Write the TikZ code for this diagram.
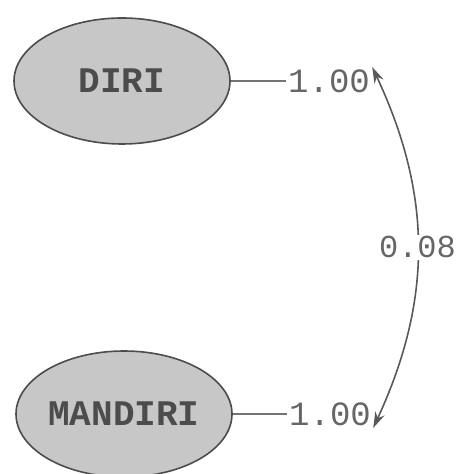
\documentclass[tikz,border=0pt]{standalone}
\usepackage{fontspec}
\setmonofont{Liberation Mono}
\usetikzlibrary{shapes.geometric, arrows.meta}

\begin{document}
\begin{tikzpicture}[
x=0.5pt, y=-0.5pt,
latentnode/.style={ellipse, draw=black!70, thick, fill=black!22, minimum width=108pt, minimum height=63pt, inner sep=0pt, font=\ttfamily\bfseries\fontsize{18}{20}\selectfont, text=black!70},
valuenode/.style={inner sep=1pt, font=\ttfamily\fontsize{17}{19}\selectfont, text=black!60},
]
\useasboundingbox (0,0) rectangle (464,474);

% Nodes
\node[latentnode] (diri) at (122,81) {DIRI};
\node[latentnode] (mandiri) at (124,414) {MANDIRI};
\node[valuenode] (vdiri) at (329,81) {1.00};
\node[valuenode] (vmandiri) at (330,414) {1.00};

% Arrows
\draw[black!55, thick] (diri.east) -- (vdiri.west);
\draw[black!55, thick] (mandiri.east) -- (vmandiri.west);
\draw[black!65, thick, {Stealth[length=8pt,width=5pt]}-{Stealth[length=8pt,width=5pt]}] (vdiri.north east) to[bend left=25]
  node[midway, fill=white, valuenode, font=\ttfamily\fontsize{16}{18}\selectfont] {0.08} (vmandiri.south east);

\end{tikzpicture}
\end{document}
